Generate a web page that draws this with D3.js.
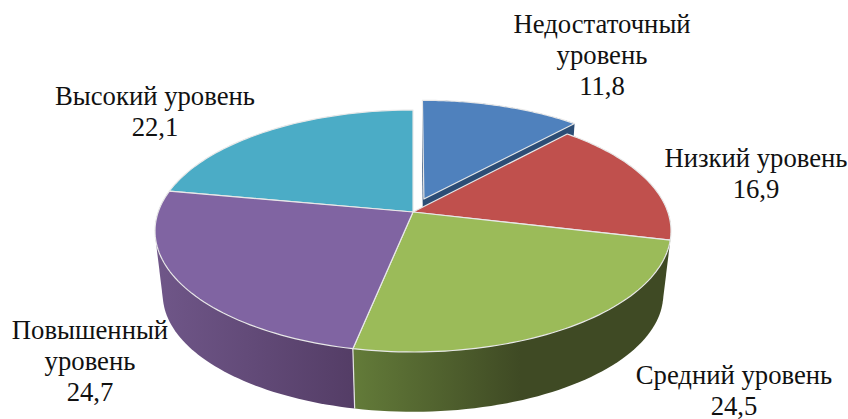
<!DOCTYPE html>
<html>
<head>
<meta charset="utf-8">
<script src="https://cdn.jsdelivr.net/npm/d3@7"></script>
<style>
  html, body { margin: 0; background: #fff; }
  text { font-family: "Liberation Serif", serif; font-size: 26.7px; fill: #111; }
</style>
</head>
<body>
<svg id="chart" width="848" height="419"></svg>
<script>
var categories = ['Недостаточный уровень', 'Низкий уровень', 'Средний уровень', 'Повышенный уровень', 'Высокий уровень'];
var values = [11.8, 16.9, 24.5, 24.7, 22.1];
var labelLines = [['Недостаточный', 'уровень', '11,8'], ['Низкий уровень', '16,9'], ['Средний уровень', '24,5'], ['Повышенный', 'уровень', '24,7'], ['Высокий уровень', '22,1']];
var topColors = ['#4f81bd', '#c0504d', '#9bbb59', '#8064a2', '#4bacc6'];
var wallLeft = ['#2c4d75', '#3f4a24', '#637b39', '#6f5688', '#2f7f94'];
var wallRight = ['#2c4d75', '#3f4a24', '#3f4a24', '#543d66', '#2f7f94'];
var explode = [0.12, 0, 0, 0, 0];

// layout
var cx = 413, cy = 212, a = 254.8, b = 118, persp = 0.157;
var depth = 64, shrink = 0.97;
var labelX = [602, 756, 734, 90, 155];
var labelY = [33, 167, 384, 339, 105];
var lineH = 31;

var svg = d3.select('#chart');
var defs = svg.append('defs');

var pie = d3.pie().sort(null).value(d => d);
var arcs = pie(values);

// perspective projection of a point on the unit disc
function project(u, v, low) {
    var w = 1 - persp * v;
    var s = low ? shrink : 1;
    return [cx + s * a * u / w, cy + s * b * v / w + (low ? depth : 0)];
}

function rim(d, i, low, from) {
    var mid = (d.startAngle + d.endAngle) / 2;
    var eu = explode[i] * Math.sin(mid), ev = -explode[i] * Math.cos(mid);
    var start = from === undefined ? d.startAngle : from;
    return d3.range(0, 61).map(function(k) {
        var t = start + (d.endAngle - start) * k / 60;
        return project(Math.sin(t) + eu, -Math.cos(t) + ev, low);
    });
}

function apex(d, i, low) {
    var mid = (d.startAngle + d.endAngle) / 2;
    return project(explode[i] * Math.sin(mid), -explode[i] * Math.cos(mid), low);
}

var line = d3.line();

// side walls first, back to front. the red wall is hidden, the green one takes its silhouette
[0, 3, 2].forEach(function(i) {
    var d = arcs[i];
    var from = i == 2 ? Math.PI / 2 : undefined;
    var top = rim(d, i, false, from), low = rim(d, i, true, from);
    var grad = defs.append('linearGradient')
        .attr('id', 'wall' + i)
        .attr('gradientUnits', 'userSpaceOnUse')
        .attr('x1', i == 2 ? 354 : 160).attr('x2', i == 2 ? 520 : 354)
        .attr('y1', 0).attr('y2', 0);
    grad.append('stop').attr('offset', 0).attr('stop-color', wallLeft[i]);
    grad.append('stop').attr('offset', 1).attr('stop-color', wallRight[i]);

    var hull = d3.polygonHull(top.concat(low));
    if (explode[i] > 0) {
        hull = d3.polygonHull(top.concat(low, [apex(d, i, false), apex(d, i, true)]));
    }
    svg.append('path')
        .attr('d', line(hull) + 'Z')
        .attr('fill', 'url(#wall' + i + ')');
});

// seam between purple and green walls
var seam = arcs[2];
svg.append('path')
    .attr('d', line([rim(seam, 2, false)[60], rim(seam, 2, true)[60]]))
    .attr('fill', 'none')
    .attr('stroke', '#e4e4e4')
    .attr('stroke-width', 1.2);

// top faces
[0, 4, 1, 2, 3].forEach(function(i) {
    var d = arcs[i];
    var pts = [apex(d, i, false)].concat(rim(d, i, false));
    svg.append('path')
        .attr('d', line(pts) + 'Z')
        .attr('fill', topColors[i])
        .attr('stroke', '#e8e8e8')
        .attr('stroke-width', 1.2)
        .attr('stroke-linejoin', 'round');
});

// labels
labelLines.forEach(function(lines, i) {
    var t = svg.append('text').attr('text-anchor', 'middle');
    lines.forEach(function(s, k) {
        t.append('tspan').attr('x', labelX[i]).attr('y', labelY[i] + k * lineH).text(s);
    });
});
</script>
</body>
</html>
